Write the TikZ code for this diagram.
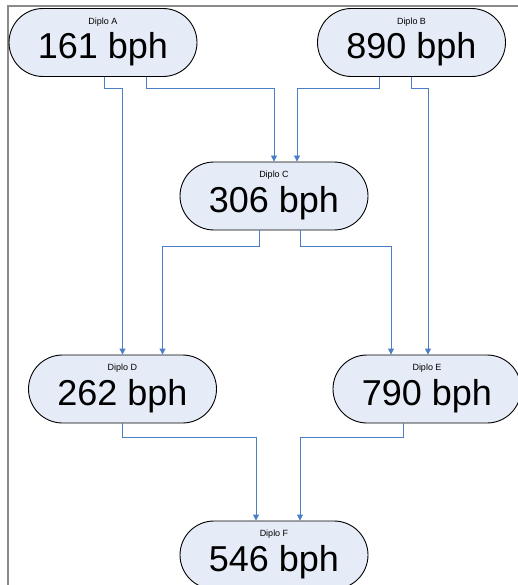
\documentclass[tikz,border=0pt]{standalone}
\usepackage{fontspec}
\setmainfont{Liberation Sans}
\usetikzlibrary{arrows.meta}
\definecolor{conncol}{HTML}{4A7EC6}
\definecolor{boxfill}{HTML}{E6ECF7}
\definecolor{framecol}{HTML}{8A8A8A}
\tikzset{
  diplo/.style={draw=black, line width=0.9pt, fill=boxfill, rounded corners=34pt,
    minimum width=188pt, minimum height=68pt, inner sep=0pt},
  dtitle/.style={anchor=base, inner sep=0pt, font=\fontsize{9}{10}\selectfont},
  dval/.style={anchor=base, inner sep=0pt, font=\fontsize{36}{40}\selectfont},
  conn/.style={draw=conncol, line width=0.9pt, -{Triangle[length=6pt,width=6pt]}}
}
\begin{document}
\begin{tikzpicture}[x=1pt,y=-1pt]
\useasboundingbox (0,0) rectangle (518,585);
\draw[framecol, line width=1.4pt] (518,6) -- (8,6) -- (8,585);
% nodes
\node[diplo] (A) at (103,42.5) {};
\node[diplo] (B) at (411.5,42.5) {};
\node[diplo] (C) at (274,196) {};
\node[diplo] (D) at (122.5,389) {};
\node[diplo] (E) at (427,389) {};
\node[diplo] (F) at (274,555) {};
\foreach \n/\t/\v in {A/Diplo A/161 bph, B/Diplo B/890 bph, C/Diplo C/306 bph, D/Diplo D/262 bph, E/Diplo E/790 bph, F/Diplo F/546 bph}{
  \node[dtitle] (\n t) at ([yshift=-16pt]\n.north) {\t};
  \node[dval] (\n v) at ([yshift=-16.5pt]\n.center) {\v};
}
% connectors
\draw[conn] ([xshift=1pt]A.south) -- ++(0,12) -| (D.north);
\draw[conn] ([xshift=43pt]A.south) -- ++(0,12) -| (C.north);
\draw[conn] ([xshift=-32.5pt]B.south) -- ++(0,12) -| ([xshift=23pt]C.north);
\draw[conn] ([xshift=-0.5pt]B.south) -- ++(0,12) -| ([xshift=1pt]E.north);
\draw[conn] ([xshift=-15pt]C.south) -- ++(0,16) -| ([xshift=40pt]D.north);
\draw[conn] ([xshift=26pt]C.south) -- ++(0,16) -| ([xshift=-36pt]E.north);
\draw[conn] ([xshift=-0.5pt]D.south) -- ++(0,14) -| ([xshift=-18pt]F.north);
\draw[conn] ([xshift=-24pt]E.south) -- ++(0,14) -| ([xshift=26pt]F.north);
\end{tikzpicture}
\end{document}
